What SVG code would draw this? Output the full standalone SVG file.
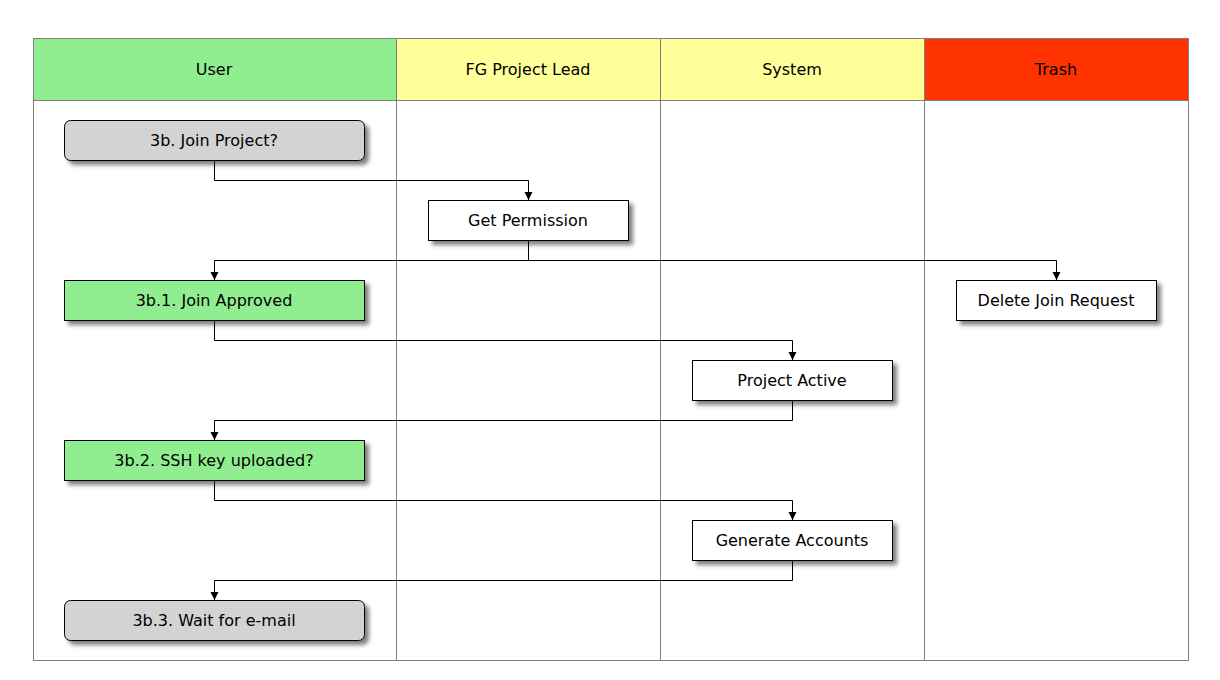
<svg xmlns="http://www.w3.org/2000/svg" width="1220" height="680" viewBox="0 0 1220 680">
<style>
.lane{stroke:#808080;stroke-width:1;}
.hdr{font-family:"DejaVu Sans",sans-serif;font-size:16px;fill:#000;text-anchor:middle;}
.box{stroke:#000;stroke-width:1;filter:url(#sh);}
.lbl{font-family:"DejaVu Sans",sans-serif;font-size:16px;fill:#000;text-anchor:middle;}
.conn{fill:none;stroke:#000;stroke-width:1;marker-end:url(#arr);}
</style>
<defs>
<filter id="sh" x="-10%" y="-30%" width="130%" height="180%">
<feDropShadow dx="4" dy="4" stdDeviation="2" flood-color="#000" flood-opacity="0.5"/>
</filter>
<marker id="arr" markerWidth="10" markerHeight="10" refX="9" refY="5" orient="auto" markerUnits="userSpaceOnUse" viewBox="0 0 10 10">
<path d="M1,1 L9,5 L1,9 Z" fill="#000"/>
</marker>
</defs>
<rect width="1220" height="680" fill="#fff"/>
<g id="lanes">
<rect x="33.5" y="38.5" width="363" height="62" fill="#90EE90" class="lane"/>
<rect x="396.5" y="38.5" width="264" height="62" fill="#FFFF99" class="lane"/>
<rect x="660.5" y="38.5" width="264" height="62" fill="#FFFF99" class="lane"/>
<rect x="924.5" y="38.5" width="264" height="62" fill="#FF3300" class="lane"/>
<rect x="33.5" y="100.5" width="1155" height="560" fill="none" class="lane"/>
<line x1="396.5" y1="100.5" x2="396.5" y2="660.5" class="lane"/>
<line x1="660.5" y1="100.5" x2="660.5" y2="660.5" class="lane"/>
<line x1="924.5" y1="100.5" x2="924.5" y2="660.5" class="lane"/>
<text x="214" y="74.5" class="hdr">User</text>
<text x="528" y="74.5" class="hdr">FG Project Lead</text>
<text x="792" y="74.5" class="hdr">System</text>
<text x="1056" y="74.5" class="hdr">Trash</text>
</g>
<g id="connectors">
<path d="M214.5,160 V180.5 H528.5 V200" class="conn"/>
<path d="M528.5,240 V260.5 H214.5 V280" class="conn"/>
<path d="M528.5,260.5 H1056.5 V280" class="conn"/>
<path d="M214.5,320 V340.5 H792.5 V360" class="conn"/>
<path d="M792.5,400 V420.5 H214.5 V440" class="conn"/>
<path d="M214.5,480 V500.5 H792.5 V520" class="conn"/>
<path d="M792.5,560 V580.5 H214.5 V600" class="conn"/>
</g>
<g id="n1"><rect x="64.5" y="120.5" width="300" height="40" rx="6" fill="#D3D3D3" class="box"/><text x="214" y="145.5" class="lbl">3b. Join Project?</text></g>
<g id="n2"><rect x="428.5" y="200.5" width="200" height="40" fill="#fff" class="box"/><text x="528" y="225.5" class="lbl">Get Permission</text></g>
<g id="n3"><rect x="64.5" y="280.5" width="300" height="40" fill="#90EE90" class="box"/><text x="214" y="305.5" class="lbl">3b.1. Join Approved</text></g>
<g id="n4"><rect x="956.5" y="280.5" width="200" height="40" fill="#fff" class="box"/><text x="1056" y="305.5" class="lbl">Delete Join Request</text></g>
<g id="n5"><rect x="692.5" y="360.5" width="200" height="40" fill="#fff" class="box"/><text x="792" y="385.5" class="lbl">Project Active</text></g>
<g id="n6"><rect x="64.5" y="440.5" width="300" height="40" fill="#90EE90" class="box"/><text x="214" y="465.5" class="lbl">3b.2. SSH key uploaded?</text></g>
<g id="n7"><rect x="692.5" y="520.5" width="200" height="40" fill="#fff" class="box"/><text x="792" y="545.5" class="lbl">Generate Accounts</text></g>
<g id="n8"><rect x="64.5" y="600.5" width="300" height="40" rx="6" fill="#D3D3D3" class="box"/><text x="214" y="625.5" class="lbl">3b.3. Wait for e-mail</text></g>
</svg>
